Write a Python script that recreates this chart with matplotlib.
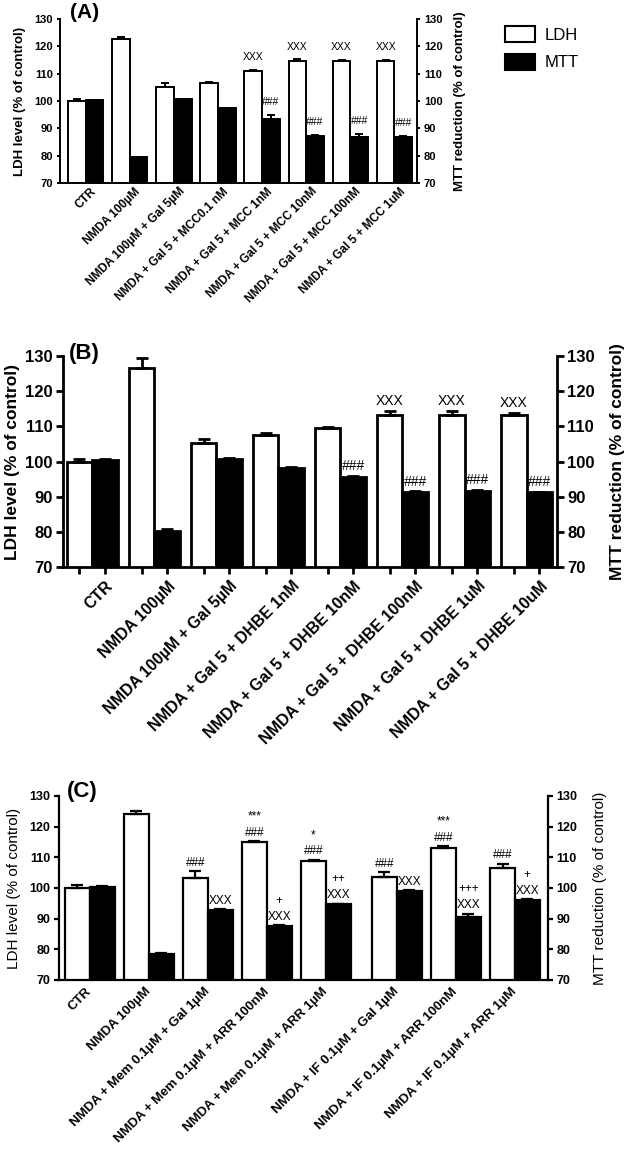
import numpy as np
import matplotlib.pyplot as plt
from matplotlib.patches import Patch

plt.rcParams['font.family'] = ['Liberation Sans', 'DejaVu Sans']

# ---- panel A : MCC ----
labels_a = ["CTR", "NMDA 100µM", "NMDA 100µM + Gal 5µM", "NMDA + Gal 5 + MCC0.1 nM",
            "NMDA + Gal 5 + MCC 1nM", "NMDA + Gal 5 + MCC 10nM",
            "NMDA + Gal 5 + MCC 100nM", "NMDA + Gal 5 + MCC 1uM"]
ldh_a = [100.0, 122.6, 105.3, 106.5, 110.9, 114.7, 114.7, 114.7]
ldh_a_err = [0.6, 0.7, 1.3, 0.5, 0.6, 0.5, 0.3, 0.3]
mtt_a = [100.2, 79.5, 100.6, 97.5, 93.3, 87.1, 86.9, 86.9]
mtt_a_err = [0.3, 0.1, 0.3, 0.1, 1.6, 0.5, 1.0, 0.3]
ldh_a_marks = ["", "", "", "", "XXX", "XXX", "XXX", "XXX"]
mtt_a_marks = ["", "", "", "", "###", "###", "###", "###"]

# ---- panel B : DHBE ----
labels_b = ["CTR", "NMDA 100µM", "NMDA 100µM + Gal 5µM", "NMDA + Gal 5 + DHBE 1nM",
            "NMDA + Gal 5 + DHBE 10nM", "NMDA + Gal 5 + DHBE 100nM",
            "NMDA + Gal 5 + DHBE 1uM", "NMDA + Gal 5 + DHBE 10uM"]
ldh_b = [100.0, 126.7, 105.4, 107.5, 109.5, 113.1, 113.1, 113.1]
ldh_b_err = [0.8, 2.6, 1.1, 0.5, 0.3, 1.3, 1.2, 0.8]
mtt_b = [100.3, 80.2, 100.8, 98.2, 95.6, 91.3, 91.7, 91.2]
mtt_b_err = [0.4, 0.7, 0.3, 0.2, 0.3, 0.2, 0.2, 0.2]
ldh_b_marks = ["", "", "", "", "", "XXX", "XXX", "XXX"]
mtt_b_marks = ["", "", "", "", "###", "###", "###", "###"]

# ---- panel C : Mem / IF + ARR ----
labels_c = ["CTR", "NMDA 100µM", "NMDA + Mem 0.1µM + Gal 1µM", "NMDA + Mem 0.1µM + ARR 100nM",
            "NMDA + Mem 0.1µM + ARR 1µM", "NMDA + IF 0.1µM + Gal 1µM",
            "NMDA + IF 0.1µM + ARR 100nM", "NMDA + IF 0.1µM + ARR 1µM"]
ldh_c = [100.1, 124.2, 103.1, 115.0, 108.8, 103.6, 113.1, 106.6]
ldh_c_err = [0.9, 0.8, 2.3, 0.3, 0.4, 1.6, 0.5, 1.3]
mtt_c = [100.3, 78.6, 92.8, 87.7, 94.7, 99.0, 90.6, 96.2]
mtt_c_err = [0.3, 0.3, 0.2, 0.2, 0.2, 0.3, 1.0, 0.2]
ldh_c_marks = ["", "", "###", "***\n###", "*\n###", "###", "***\n###", "###"]
mtt_c_marks = ["", "", "XXX", "+\nXXX", "++\nXXX", "XXX", "+++\nXXX", "+\nXXX"]

W, H = 628, 1153
fig = plt.figure(figsize=(W / 100, H / 100), dpi=100)


def px_rect(left, right, top, bottom):
    return [left / W, 1 - bottom / H, (right - left) / W, (bottom - top) / H]


def panel(rect, x, labels, ldh, ldh_err, mtt, mtt_err, ldh_marks, mtt_marks, tag,
          w, xlim, fs_tick, fs_xlab, fs_ylab, ylab_weight, fs_mark, fs_tag, lw,
          tick_len, cap, pad_mark, xpad, lab_shift, ylab_x, tag_off, bar_ticks=False):
    x = np.array(x, float)
    ax = fig.add_axes(rect)
    ax.bar(x - w / 2, ldh, w, color='white', edgecolor='black', linewidth=lw, zorder=2)
    ax.bar(x + w / 2, mtt, w, color='black', edgecolor='black', linewidth=lw, zorder=2)
    zeros = np.zeros(len(x))
    ax.errorbar(x - w / 2, ldh, yerr=[zeros, ldh_err], fmt='none', ecolor='black',
                elinewidth=lw, capsize=cap, capthick=lw, zorder=3)
    ax.errorbar(x + w / 2, mtt, yerr=[zeros, mtt_err], fmt='none', ecolor='black',
                elinewidth=lw, capsize=cap, capthick=lw, zorder=3)

    for i in range(len(x)):
        if ldh_marks[i]:
            ax.text(x[i] - w / 2, ldh[i] + ldh_err[i] + pad_mark, ldh_marks[i],
                    ha='center', va='bottom', fontsize=fs_mark, linespacing=1.45)
        if mtt_marks[i]:
            ax.text(x[i] + w / 2, mtt[i] + mtt_err[i] + pad_mark, mtt_marks[i],
                    ha='center', va='bottom', fontsize=fs_mark, linespacing=1.45)

    ax.set_xlim(*xlim)
    ax.set_ylim(70, 130)
    ax.set_yticks(range(70, 131, 10))
    for s in ['top', 'right']:
        ax.spines[s].set_visible(False)
    for s in ['left', 'bottom']:
        ax.spines[s].set_linewidth(lw)
    ax.tick_params(axis='y', direction='out', length=tick_len, width=lw,
                   labelsize=fs_tick, pad=2.5)
    for t in ax.get_yticklabels():
        t.set_fontweight('bold')

    ax.set_xticks(x + lab_shift)
    ax.set_xticklabels(labels, rotation=45, ha='right', rotation_mode='anchor',
                       va='center', fontsize=fs_xlab, fontweight='bold')
    ax.tick_params(axis='x', which='major', length=0, pad=xpad)
    if bar_ticks:
        ax.set_xticks(np.concatenate([x - w / 2, x + w / 2]), minor=True)
        ax.tick_params(axis='x', which='minor', direction='out', length=tick_len, width=lw)

    ax.set_ylabel("LDH level (% of control)", fontsize=fs_ylab, fontweight=ylab_weight)
    ax.yaxis.set_label_coords(ylab_x[0], 0.5)

    ax2 = ax.twinx()
    ax2.set_ylim(70, 130)
    ax2.set_yticks(range(70, 131, 10))
    for s in ['top', 'left', 'bottom']:
        ax2.spines[s].set_visible(False)
    ax2.spines['right'].set_linewidth(lw)
    ax2.tick_params(axis='y', direction='out', length=tick_len, width=lw,
                    labelsize=fs_tick, pad=2.5)
    for t in ax2.get_yticklabels():
        t.set_fontweight('bold')
    ax2.set_ylabel("MTT reduction (% of control)", fontsize=fs_ylab, fontweight=ylab_weight)
    ax2.yaxis.set_label_coords(ylab_x[1], 0.5)

    ax.annotate(tag, xy=(0, 1), xycoords='axes fraction', xytext=tag_off,
                textcoords='offset points', ha='left', va='center',
                fontsize=fs_tag, fontweight='bold')
    return ax


pos_a = [0, 1, 2, 3, 4, 5, 6, 7]
pos_b = [0, 1, 2, 3, 4, 5, 6, 7]
pos_c = [0, 1, 2, 3, 4, 5.2, 6.2, 7.2]

panel(px_rect(60, 417, 19, 183), pos_a, labels_a, ldh_a, ldh_a_err, mtt_a, mtt_a_err,
      ldh_a_marks, mtt_a_marks, "(A)", w=0.4, xlim=(-0.58, 7.51), fs_tick=8, fs_xlab=8.5,
      fs_ylab=9.5, ylab_weight='bold', fs_mark=7.5, fs_tag=15, lw=1.4, tick_len=2.5,
      cap=3, pad_mark=2.8, xpad=5, lab_shift=0.2, ylab_x=(-0.095, 1.104), tag_off=(7, 5))

panel(px_rect(63, 557, 356, 567), pos_b, labels_b, ldh_b, ldh_b_err, mtt_b, mtt_b_err,
      ldh_b_marks, mtt_b_marks, "(B)", w=0.41, xlim=(-0.47, 7.49), fs_tick=12, fs_xlab=11.5,
      fs_ylab=12.5, ylab_weight='bold', fs_mark=10, fs_tag=16, lw=2.0, tick_len=5,
      cap=4.2, pad_mark=0.8, xpad=12, lab_shift=0.3, ylab_x=(-0.087, 1.107), tag_off=(4, 2),
      bar_ticks=True)

panel(px_rect(59, 548, 796, 980), pos_c, labels_c, ldh_c, ldh_c_err, mtt_c, mtt_c_err,
      ldh_c_marks, mtt_c_marks, "(C)", w=0.42, xlim=(-0.52, 7.76), fs_tick=9, fs_xlab=9.5,
      fs_ylab=11, ylab_weight='normal', fs_mark=8.5, fs_tag=16, lw=1.6, tick_len=3.6,
      cap=4.2, pad_mark=0.8, xpad=7, lab_shift=0.0, ylab_x=(-0.078, 1.092), tag_off=(6, 3))

handles = [Patch(facecolor='white', edgecolor='black', linewidth=1.5),
           Patch(facecolor='black', edgecolor='black', linewidth=1.5)]
fig.legend(handles, ["LDH", "MTT"], loc='upper left', bbox_to_anchor=(505 / W, 1 - 26 / H),
           frameon=False, fontsize=12, handlelength=1.8, handleheight=1.1,
           labelspacing=0.65, handletextpad=0.6, borderpad=0, borderaxespad=0)

fig.savefig("out.png", dpi=100)
